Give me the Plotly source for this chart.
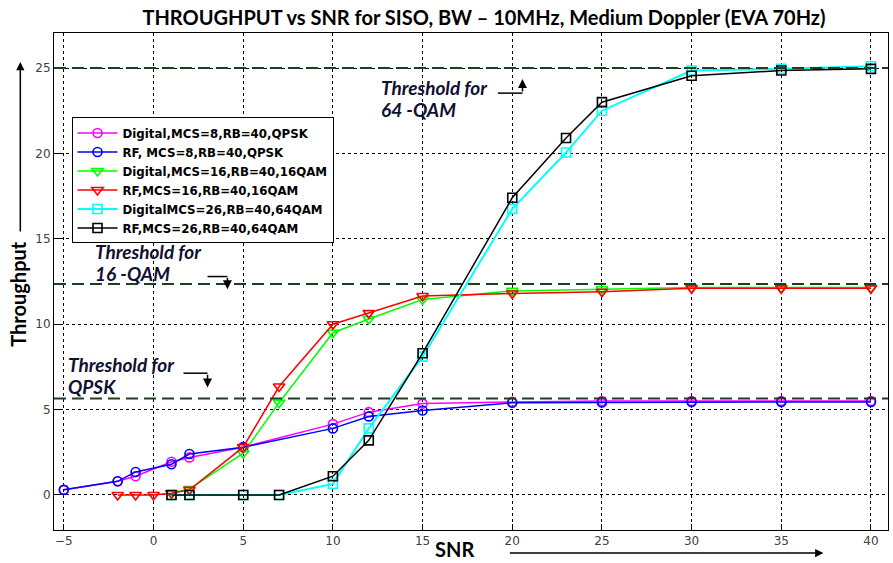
import plotly.graph_objects as go

# ---------------- data ----------------
x_dig_qpsk = [-5, -2, -1, 1, 2, 5, 10, 12, 15, 20, 25, 30, 35, 40]
y_dig_qpsk = [0.3, 0.8, 1.1, 1.95, 2.2, 2.8, 4.15, 4.85, 5.35, 5.45, 5.5, 5.5, 5.5, 5.5]

x_rf_qpsk = [-5, -2, -1, 1, 2, 5, 10, 12, 15, 20, 25, 30, 35, 40]
y_rf_qpsk = [0.3, 0.8, 1.35, 1.8, 2.4, 2.8, 3.9, 4.6, 4.95, 5.4, 5.42, 5.45, 5.45, 5.45]

x_dig_16 = [1, 2, 5, 7, 10, 12, 15, 20, 25, 30, 35, 40]
y_dig_16 = [0.1, 0.35, 2.45, 5.4, 9.5, 10.3, 11.45, 11.95, 12.05, 12.15, 12.15, 12.15]

x_rf_16 = [-2, -1, 0, 1, 2, 5, 7, 10, 12, 15, 20, 25, 30, 35, 40]
y_rf_16 = [0, 0, 0, 0.1, 0.3, 2.8, 6.35, 10.0, 10.65, 11.65, 11.8, 11.9, 12.1, 12.1, 12.1]

x_dig_64 = [1, 2, 5, 7, 10, 12, 15, 20, 23, 25, 30, 35, 40]
y_dig_64 = [0, 0, 0, 0, 0.65, 3.9, 8.1, 16.75, 20.05, 22.5, 24.85, 24.95, 25.1]

x_rf_64 = [1, 2, 5, 7, 10, 12, 15, 20, 23, 25, 30, 35, 40]
y_rf_64 = [0, 0, 0, 0, 1.1, 3.2, 8.3, 17.4, 20.9, 23.0, 24.55, 24.85, 24.95]

thresholds = [25.0, 12.35, 5.65]
threshold_labels = [("Threshold for", "64 -QAM"), ("Threshold for", "16 -QAM"), ("Threshold for", "QPSK")]

x_ticks = [-5, 0, 5, 10, 15, 20, 25, 30, 35, 40]
y_ticks = [0, 5, 10, 15, 20, 25]

title = "THROUGHPUT vs SNR for SISO, BW \u2013 10MHz, Medium Doppler (EVA 70Hz)"

# ---------------- figure ----------------
series = [
    ("Digital,MCS=8,RB=40,QPSK", x_dig_qpsk, y_dig_qpsk, "#ff00ff", "circle-open", 9, 1.5),
    ("RF, MCS=8,RB=40,QPSK", x_rf_qpsk, y_rf_qpsk, "#0000ff", "circle-open", 9, 1.5),
    ("Digital,MCS=16,RB=40,16QAM", x_dig_16, y_dig_16, "#00ff00", "triangle-down-open", 10, 1.5),
    ("RF,MCS=16,RB=40,16QAM", x_rf_16, y_rf_16, "#ff0000", "triangle-down-open", 10, 1.5),
    ("DigitalMCS=26,RB=40,64QAM", x_dig_64, y_dig_64, "#00ffff", "square-open", 9, 2),
    ("RF,MCS=26,RB=40,64QAM", x_rf_64, y_rf_64, "#000000", "square-open", 9, 1.5),
]

fig = go.Figure()
for name, xs, ys, col, sym, sz, lw in series:
    fig.add_trace(go.Scatter(
        x=xs, y=ys, name="<b>%s</b>" % name, mode="lines+markers",
        line=dict(color=col, width=lw),
        marker=dict(symbol=sym, size=sz, color=col, line=dict(color=col, width=1.6)),
    ))

# threshold dashed lines
for t in thresholds:
    fig.add_shape(type="line", xref="paper", x0=0, x1=1, yref="y", y0=t, y1=t,
                  line=dict(color="#1e3f1e", width=2, dash="12px,6px"), layer="above")

ann_font = dict(family="Lato, Open Sans, sans-serif", size=19, color="#101030")
# text positions (data units) for the threshold notes
note_pos = [(12.55, 23.84, 22.55), (-3.4, 14.24, 12.95), (-4.9, 7.62, 6.33)]
for (l1, l2), (xx, y1, y2) in zip(threshold_labels, note_pos):
    fig.add_annotation(x=xx, y=y1, xref="x", yref="y", text="<b><i>%s</i></b>" % l1,
                       showarrow=False, xanchor="left", yanchor="middle", font=ann_font)
    fig.add_annotation(x=xx, y=y2, xref="x", yref="y", text="<b><i>%s</i></b>" % l2,
                       showarrow=False, xanchor="left", yanchor="middle", font=ann_font)

# bent arrows for the notes: (x_start, x_corner, y_level, y_head)
bent = [(19.2, 20.57, 23.53, 24.35), (3.01, 4.12, 12.79, 12.05), (1.67, 3.01, 7.13, 6.3)]
for xs0, xc, yl, yh in bent:
    fig.add_shape(type="line", xref="x", yref="y", x0=xs0, x1=xc, y0=yl, y1=yl,
                  line=dict(color="black", width=1.5))
    fig.add_annotation(x=xc, y=yh, ax=xc, ay=yl, xref="x", yref="y", axref="x", ayref="y",
                       text="", showarrow=True, arrowhead=2, arrowsize=1.2, arrowwidth=1.5,
                       arrowcolor="black")

# axis titles with arrows
fig.add_annotation(x=0.4806, y=-0.0382, xref="paper", yref="paper", text="<b>SNR</b>",
                   xanchor="center", yanchor="middle",
                   showarrow=False, font=dict(family="Lato, sans-serif", size=20, color="black"))
fig.add_annotation(x=0.9225, y=-0.0463, xref="paper", yref="paper", ax=-315, ay=0,
                   text="", showarrow=True, arrowhead=2, arrowsize=1.1, arrowwidth=1.5, arrowcolor="black")
fig.add_annotation(x=-0.0435, y=0.4748, xref="paper", yref="paper", text="<b>Throughput</b>",
                   xanchor="center", yanchor="middle",
                   textangle=-90, showarrow=False,
                   font=dict(family="Lato, sans-serif", size=20, color="black"))
fig.add_annotation(x=-0.0404, y=0.9416, xref="paper", yref="paper", ax=0, ay=171,
                   text="", showarrow=True, arrowhead=2, arrowsize=1.1, arrowwidth=1.5, arrowcolor="black")

axis_common = dict(
    showline=True, linecolor="black", linewidth=1, mirror=True,
    ticks="inside", ticklen=6, tickcolor="black",
    showgrid=True, gridcolor="black", gridwidth=1, griddash="dot",
    zeroline=False,
    tickfont=dict(family="DejaVu Sans, sans-serif", size=12, color="#404040"),
)
fig.update_xaxes(range=[-5.55, 40.95], tickvals=x_ticks, **axis_common)
fig.update_yaxes(range=[-2.05, 27.05], tickvals=y_ticks, **axis_common)

fig.update_layout(
    width=893, height=563,
    margin=dict(l=54, r=5, t=33, b=33),
    paper_bgcolor="white", plot_bgcolor="white",
    title=dict(text="<b>%s</b>" % title, x=0.542, xanchor="center", y=0.968, yanchor="middle",
               font=dict(family="Lato, sans-serif", size=20, color="black")),
    legend=dict(x=0.021, y=0.83, xanchor="left", yanchor="top",
                bgcolor="white", bordercolor="black", borderwidth=1,
                font=dict(family="DejaVu Sans, sans-serif", size=11.8, color="black"),
                tracegroupgap=0, itemwidth=40, traceorder="normal"),
    showlegend=True,
)

fig.write_html("out.html", config={"displayModeBar": False},
               post_script="document.body.style.margin='0px';")
